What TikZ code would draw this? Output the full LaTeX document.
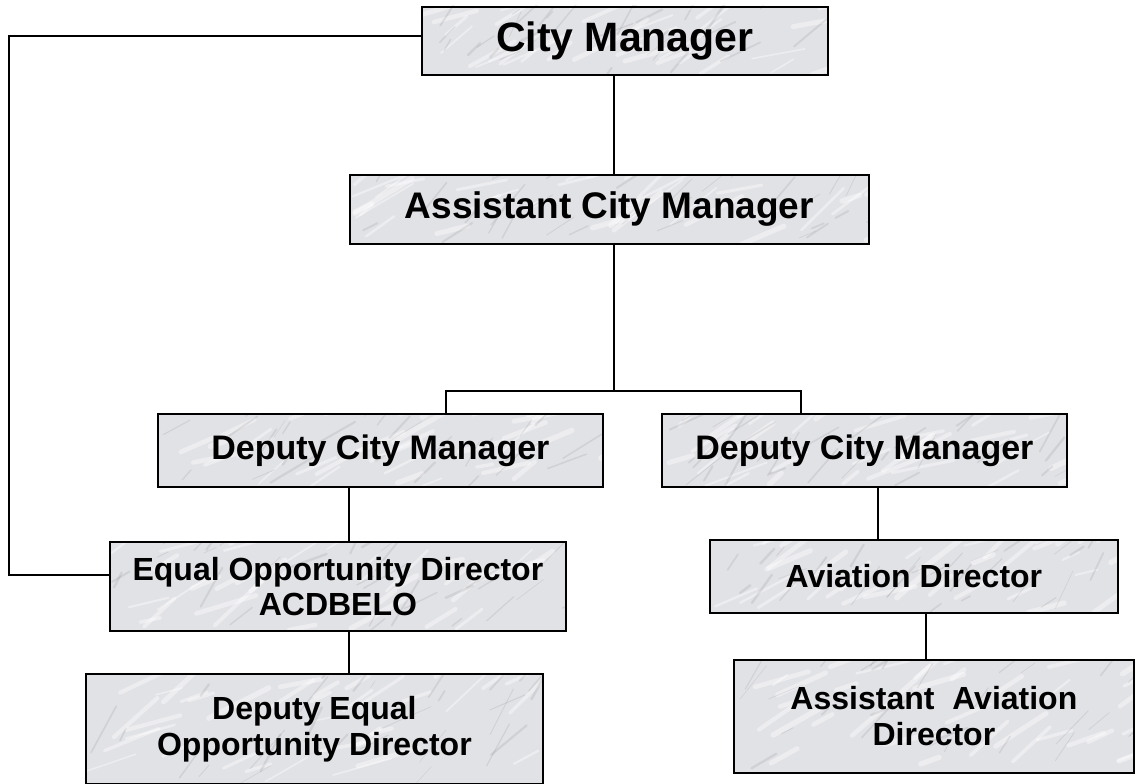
\documentclass[tikz,border=0pt]{standalone}
\usepackage{fontspec}
\setmainfont{Liberation Sans}
\usetikzlibrary{calc,backgrounds}

\definecolor{marble}{RGB}{225,226,230}
\tikzset{
  box/.style={draw=black, line width=1.8pt, anchor=north west, inner sep=0pt, align=center},
  link/.style={draw=black, line width=1.5pt},
  streakdark/.style={line cap=round, draw=black!65, opacity=0.12},
  streaklight/.style={line cap=round, draw=white, opacity=0.4},
}

% marbled background behind a named box
\newcommand{\marblefill}[2]{%
  \begin{scope}[on background layer]
    \fill[marble] (#1.south west) rectangle (#1.north east);
    \begin{scope}
      \clip (#1.south west) rectangle (#1.north east);
      \pgfmathsetseed{#2}
      \foreach \k in {1,...,35}{
        \pgfmathsetmacro\u{rnd}\pgfmathsetmacro\v{rnd}
        \pgfmathsetmacro\len{15+55*rnd}\pgfmathsetmacro\ang{10+35*rnd}
        \pgfmathsetmacro\w{1.5+4*rnd}
        \draw[streaklight, line width=\w pt] let \p1=(#1.south west), \p2=(#1.north east) in
          ({\x1+\u*(\x2-\x1)},{\y1+\v*(\y2-\y1)}) -- ++(\ang:\len pt);
      }
      \foreach \k in {1,...,30}{
        \pgfmathsetmacro\u{rnd}\pgfmathsetmacro\v{rnd}
        \pgfmathsetmacro\len{8+45*rnd}\pgfmathsetmacro\ang{20+45*rnd}
        \pgfmathsetmacro\w{0.5+2*rnd}
        \draw[streakdark, line width=\w pt] let \p1=(#1.south west), \p2=(#1.north east) in
          ({\x1+\u*(\x2-\x1)},{\y1+\v*(\y2-\y1)}) -- ++(\ang:\len pt);
      }
    \end{scope}
  \end{scope}
}

\begin{document}
\begin{tikzpicture}[x=1pt, y=-1pt]
  \useasboundingbox (0,0) rectangle (1135,784);
  \begin{scope}[on background layer]
    \fill[white] (0,0) rectangle (1135,784);
  \end{scope}

  % boxes
  \node[box, minimum width=406pt, minimum height=68pt, font=\fontsize{41}{47}\selectfont\bfseries] (cm) at (421,6) {City Manager};
  \node[box, minimum width=519pt, minimum height=69pt, font=\fontsize{37}{43}\selectfont\bfseries] (acm) at (349,174) {Assistant City Manager};
  \node[box, minimum width=445pt, minimum height=73pt, font=\fontsize{34}{40}\selectfont\bfseries] (dcml) at (157,413) {Deputy City Manager};
  \node[box, minimum width=405pt, minimum height=73pt, font=\fontsize{34}{40}\selectfont\bfseries] (dcmr) at (661,413) {Deputy City Manager};
  \node[box, minimum width=456pt, minimum height=89pt, font=\fontsize{32}{35}\selectfont\bfseries] (eod) at (109,541) {Equal Opportunity Director\\ACDBELO};
  \node[box, minimum width=408pt, minimum height=73pt, font=\fontsize{32}{37}\selectfont\bfseries] (ad) at (709,539) {Aviation Director};
  \node[box, minimum width=457pt, minimum height=110pt, font=\fontsize{32}{36}\selectfont\bfseries] (deod) at (85,673) {Deputy Equal\\Opportunity Director};
  \node[box, minimum width=400pt, minimum height=113pt, font=\fontsize{32}{36}\selectfont\bfseries] (aad) at (733,659) {Assistant\ \ Aviation\\Director};

  \marblefill{cm}{11}
  \marblefill{acm}{23}
  \marblefill{dcml}{37}
  \marblefill{dcmr}{41}
  \marblefill{eod}{53}
  \marblefill{ad}{67}
  \marblefill{deod}{79}
  \marblefill{aad}{83}

  % routing points
  \coordinate (tl) at (9,36);
  \coordinate (eodin) at (0,575);
  \coordinate (trunk) at (614,391);
  \coordinate (jl) at (446,391);
  \coordinate (jr) at (801,391);
  \coordinate (xe) at (349,0);
  \coordinate (xa) at (878,0);
  \coordinate (xb) at (926,0);

  % connectors
  \draw[link] (cm.west |- tl) -- (tl) -- (tl |- eodin) -- (eod.west |- eodin);
  \draw[link] (cm.south -| trunk) -- (acm.north -| trunk);
  \draw[link] (acm.south -| trunk) -- (trunk);
  \draw[link] (dcml.north -| jl) -- (jl) -- (jr) -- (dcmr.north -| jr);
  \draw[link] (dcml.south -| xe) -- (eod.north -| xe);
  \draw[link] (eod.south -| xe) -- (deod.north -| xe);
  \draw[link] (dcmr.south -| xa) -- (ad.north -| xa);
  \draw[link] (ad.south -| xb) -- (aad.north -| xb);
\end{tikzpicture}
\end{document}
